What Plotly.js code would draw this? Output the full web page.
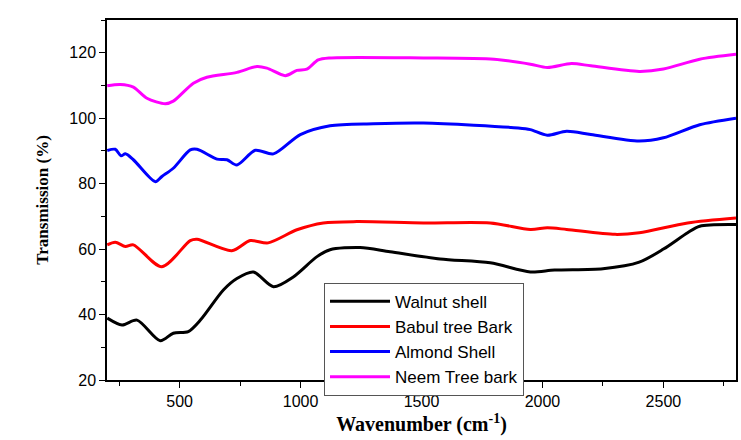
<!DOCTYPE html>
<html>
<head>
<script src="https://cdn.plot.ly/plotly-3.0.1.min.js"></script>
<style>body{margin:0}#chart{width:741px;height:440px}</style>
</head>
<body>
<div id="chart"></div>
<script>
const walnutX = [201, 262, 324, 420, 474, 536, 586, 681, 737, 805, 888, 970, 1068, 1122, 1246, 1370, 1577, 1784, 1950, 2050, 2250, 2400, 2500, 2600, 2650, 2800];
const walnutY = [38.9, 36.8, 38.3, 32, 34.3, 34.8, 38.3, 47.5, 51, 53, 48.5, 51.5, 57.7, 59.8, 60.5, 59.2, 57, 55.8, 53, 53.6, 54, 56, 60, 65, 67, 67.5];
const babulX = [201, 234, 276, 309, 427, 544, 572, 716, 792, 866, 985, 1094, 1233, 1508, 1784, 1950, 2020, 2100, 2300, 2400, 2600, 2800];
const babulY = [61.3, 62.1, 60.8, 61.3, 54.6, 62.6, 63, 59.5, 62.6, 61.9, 65.9, 68, 68.4, 68, 68, 66, 66.5, 66, 64.5, 65, 68, 69.5];
const almondX = [201, 234, 258, 276, 309, 400, 427, 474, 544, 572, 655, 696, 737, 813, 888, 999, 1122, 1301, 1508, 1900, 1950, 2020, 2100, 2200, 2400, 2500, 2650, 2800];
const almondY = [90.1, 90.5, 88.5, 89.1, 87.3, 80.6, 82.2, 84.7, 90.3, 90.5, 87.5, 87.3, 85.7, 90.2, 89.1, 95, 97.7, 98.3, 98.5, 97, 96.5, 94.8, 96, 95, 93, 94, 98, 100];
const neemX = [201, 255, 309, 365, 441, 474, 557, 613, 737, 820, 861, 937, 985, 1026, 1073, 1122, 1508, 1800, 1950, 2020, 2120, 2200, 2400, 2500, 2650, 2800];
const neemY = [109.9, 110.3, 109.5, 106.1, 104.4, 105.2, 110.7, 112.5, 114, 115.8, 115.3, 113, 114.6, 115, 117.8, 118.4, 118.4, 118, 116.5, 115.5, 116.7, 116, 114.3, 115, 118, 119.5];

const names = ["Walnut shell", "Babul tree Bark", "Almond Shell", "Neem Tree bark"];
const colors = ["#000000", "#ff0000", "#0000ff", "#ff00ff"];
const xs = [walnutX, babulX, almondX, neemX];
const ys = [walnutY, babulY, almondY, neemY];

const traces = names.map((n, i) => ({
  x: xs[i], y: ys[i], name: n, mode: "lines",
  line: { color: colors[i], width: 3, shape: "spline", smoothing: 0.8 },
}));

const axisCommon = {
  showline: true, linecolor: "#000", linewidth: 1.5, mirror: true,
  ticks: "outside", ticklen: 6, tickcolor: "#000", showgrid: false, zeroline: false,
  tickfont: { family: "Arial, Liberation Sans", size: 16, color: "#000" },
};

Plotly.newPlot("chart", traces, {
  width: 741, height: 440,
  margin: { l: 107, r: 5, t: 20, b: 60 },
  plot_bgcolor: "#fff", paper_bgcolor: "#fff",
  xaxis: Object.assign({}, axisCommon, {
    range: [200, 2800], tickvals: [500, 1000, 1500, 2000, 2500],
    minor: { ticks: "outside", ticklen: 4, tickcolor: "#000", dtick: 250 },
    title: { text: "<b>Wavenumber (cm<sup>-1</sup>)</b>", font: { family: "Liberation Serif", size: 20, color: "#000" }, standoff: 8 },
  }),
  yaxis: Object.assign({}, axisCommon, {
    range: [20, 130], tickvals: [20, 40, 60, 80, 100, 120],
    minor: { ticks: "outside", ticklen: 4, tickcolor: "#000", dtick: 10 },
    title: { text: "<b>Transmission (%)</b>", font: { family: "Liberation Serif", size: 17, color: "#000" }, standoff: 16 },
  }),
  legend: {
    x: 0.345, y: 0.27, xanchor: "left", yanchor: "top",
    bgcolor: "#fff", bordercolor: "#555", borderwidth: 1,
    font: { family: "Arial, Liberation Sans", size: 17, color: "#000" },
    tracegroupgap: 0, itemwidth: 60,
  },
  showlegend: true,
}, { displayModeBar: false });
</script>
</body>
</html>
